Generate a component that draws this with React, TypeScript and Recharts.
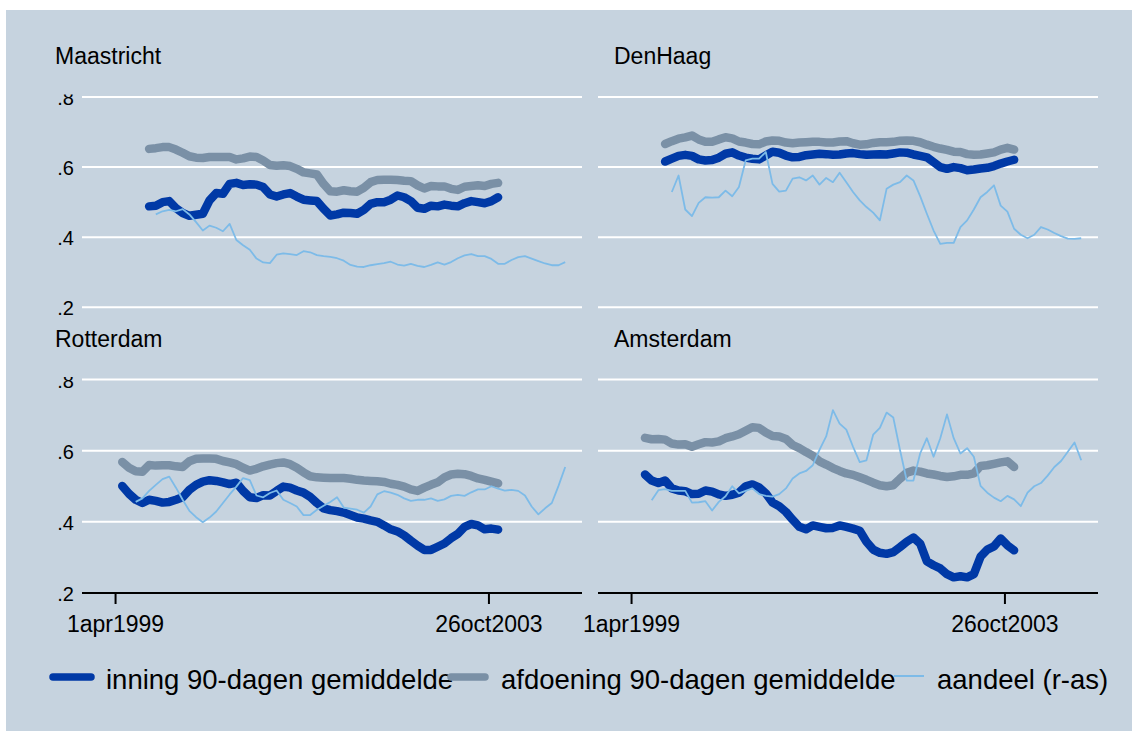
import { LineChart, Line, XAxis, YAxis, CartesianGrid } from 'recharts'

const BG = '#c6d3df'
const C_INNING = '#0039a6'
const C_AFDOENING = '#7a90a6'
const C_AANDEEL = '#7dbbe8'
const FONT = '"Liberation Sans", Arial, sans-serif'

// x grid: one sample every 30 days, day 0 = 1apr1999
const STEP_DAYS = 30
const N_STEPS = 68
const X_DOMAIN: [number, number] = [-150, 2085]
const X_TICKS = [0, 1669]
const X_LABELS = ['1apr1999', '26oct2003']
const Y_TICKS = [0.2, 0.4, 0.6, 0.8]
const Y_LABELS = ['.2', '.4', '.6', '.8']

const SERIES_NAMES = ['inning 90-dagen gemiddelde', 'afdoening 90-dagen gemiddelde', 'aandeel (r-as)']
const CITIES = ['Maastricht', 'DenHaag', 'Rotterdam', 'Amsterdam']

// Maastricht (inning/afdoening from step 5, aandeel from step 6)
const MAA_INNING = [0.488, 0.490, 0.500, 0.503, 0.483, 0.469, 0.461, 0.464, 0.467, 0.505, 0.526, 0.524, 0.552, 0.555, 0.549, 0.551, 0.550, 0.543, 0.522, 0.516, 0.522, 0.526, 0.516, 0.507, 0.505, 0.503, 0.481, 0.462, 0.465, 0.470, 0.469, 0.467, 0.478, 0.495, 0.500, 0.500, 0.507, 0.519, 0.514, 0.503, 0.484, 0.481, 0.490, 0.488, 0.493, 0.490, 0.488, 0.497, 0.503, 0.500, 0.497, 0.503, 0.514]
const MAA_AFDOENING = [0.652, 0.654, 0.657, 0.657, 0.650, 0.641, 0.631, 0.627, 0.626, 0.629, 0.629, 0.629, 0.629, 0.622, 0.625, 0.630, 0.629, 0.619, 0.606, 0.604, 0.605, 0.603, 0.595, 0.585, 0.582, 0.579, 0.552, 0.531, 0.530, 0.534, 0.531, 0.530, 0.541, 0.557, 0.563, 0.564, 0.564, 0.563, 0.561, 0.560, 0.548, 0.539, 0.546, 0.545, 0.545, 0.538, 0.535, 0.544, 0.546, 0.548, 0.546, 0.552, 0.555]
const MAA_AANDEEL = [0.465, 0.474, 0.478, 0.474, 0.480, 0.465, 0.443, 0.419, 0.433, 0.427, 0.417, 0.438, 0.392, 0.377, 0.364, 0.339, 0.328, 0.326, 0.350, 0.354, 0.352, 0.349, 0.360, 0.357, 0.349, 0.346, 0.344, 0.340, 0.333, 0.321, 0.316, 0.315, 0.320, 0.323, 0.326, 0.330, 0.322, 0.319, 0.324, 0.318, 0.315, 0.321, 0.328, 0.322, 0.329, 0.340, 0.348, 0.352, 0.346, 0.346, 0.338, 0.324, 0.324, 0.335, 0.343, 0.346, 0.339, 0.332, 0.325, 0.320, 0.320, 0.329]

// Den Haag (from step 5 / 6)
const DH_INNING = [0.616, 0.624, 0.632, 0.635, 0.632, 0.622, 0.619, 0.620, 0.627, 0.638, 0.642, 0.633, 0.627, 0.624, 0.622, 0.633, 0.644, 0.641, 0.633, 0.628, 0.629, 0.634, 0.636, 0.638, 0.637, 0.635, 0.636, 0.639, 0.640, 0.637, 0.635, 0.636, 0.637, 0.636, 0.639, 0.642, 0.641, 0.636, 0.632, 0.628, 0.614, 0.600, 0.595, 0.600, 0.597, 0.591, 0.593, 0.596, 0.598, 0.603, 0.610, 0.616, 0.621]
const DH_AFDOENING = [0.666, 0.674, 0.681, 0.685, 0.690, 0.679, 0.672, 0.672, 0.679, 0.685, 0.682, 0.673, 0.670, 0.666, 0.665, 0.673, 0.676, 0.675, 0.670, 0.668, 0.670, 0.671, 0.672, 0.672, 0.670, 0.670, 0.673, 0.674, 0.668, 0.664, 0.665, 0.669, 0.671, 0.671, 0.672, 0.675, 0.676, 0.675, 0.671, 0.664, 0.658, 0.653, 0.649, 0.644, 0.643, 0.637, 0.635, 0.636, 0.639, 0.642, 0.650, 0.655, 0.650]
const DH_AANDEEL = [0.529, 0.576, 0.479, 0.460, 0.498, 0.514, 0.513, 0.514, 0.533, 0.517, 0.543, 0.619, 0.624, 0.624, 0.643, 0.552, 0.530, 0.533, 0.567, 0.571, 0.562, 0.576, 0.550, 0.569, 0.557, 0.584, 0.557, 0.529, 0.505, 0.486, 0.470, 0.448, 0.538, 0.550, 0.557, 0.576, 0.562, 0.517, 0.467, 0.419, 0.381, 0.384, 0.384, 0.429, 0.448, 0.479, 0.514, 0.529, 0.548, 0.490, 0.473, 0.424, 0.407, 0.397, 0.407, 0.429, 0.422, 0.412, 0.403, 0.396, 0.395, 0.397]

// Rotterdam (from step 1 / 3)
const RO_INNING = [0.501, 0.479, 0.462, 0.453, 0.462, 0.459, 0.454, 0.456, 0.462, 0.469, 0.490, 0.504, 0.513, 0.517, 0.515, 0.511, 0.506, 0.510, 0.487, 0.469, 0.467, 0.475, 0.474, 0.487, 0.499, 0.496, 0.488, 0.482, 0.470, 0.453, 0.438, 0.433, 0.430, 0.426, 0.419, 0.412, 0.409, 0.404, 0.400, 0.390, 0.379, 0.373, 0.362, 0.347, 0.333, 0.321, 0.321, 0.330, 0.339, 0.354, 0.366, 0.386, 0.394, 0.390, 0.379, 0.381, 0.378]
const RO_AFDOENING = [0.568, 0.552, 0.542, 0.541, 0.560, 0.558, 0.559, 0.559, 0.556, 0.554, 0.570, 0.577, 0.578, 0.578, 0.577, 0.571, 0.567, 0.562, 0.552, 0.544, 0.549, 0.556, 0.561, 0.565, 0.567, 0.562, 0.552, 0.539, 0.528, 0.525, 0.524, 0.523, 0.523, 0.523, 0.521, 0.518, 0.516, 0.515, 0.514, 0.512, 0.507, 0.504, 0.499, 0.491, 0.487, 0.496, 0.504, 0.511, 0.525, 0.533, 0.535, 0.534, 0.529, 0.522, 0.518, 0.513, 0.508]
const RO_AANDEEL = [0.456, 0.466, 0.487, 0.504, 0.520, 0.527, 0.496, 0.462, 0.431, 0.413, 0.399, 0.412, 0.429, 0.453, 0.477, 0.499, 0.523, 0.517, 0.474, 0.469, 0.481, 0.488, 0.462, 0.453, 0.443, 0.419, 0.419, 0.434, 0.445, 0.456, 0.469, 0.440, 0.437, 0.434, 0.426, 0.443, 0.477, 0.486, 0.482, 0.476, 0.466, 0.459, 0.462, 0.462, 0.466, 0.459, 0.463, 0.473, 0.476, 0.473, 0.483, 0.491, 0.491, 0.500, 0.493, 0.488, 0.490, 0.487, 0.474, 0.443, 0.421, 0.438, 0.453, 0.501, 0.554]

// Amsterdam (from step 2 / 3)
const AM_INNING = [0.533, 0.516, 0.509, 0.516, 0.494, 0.488, 0.486, 0.478, 0.479, 0.488, 0.485, 0.477, 0.473, 0.476, 0.482, 0.500, 0.505, 0.497, 0.480, 0.454, 0.444, 0.428, 0.406, 0.386, 0.379, 0.390, 0.386, 0.382, 0.383, 0.390, 0.386, 0.381, 0.375, 0.344, 0.322, 0.313, 0.310, 0.315, 0.329, 0.344, 0.356, 0.339, 0.289, 0.278, 0.269, 0.253, 0.244, 0.247, 0.244, 0.253, 0.302, 0.322, 0.331, 0.353, 0.334, 0.320]
const AM_AFDOENING = [0.636, 0.632, 0.633, 0.631, 0.620, 0.617, 0.618, 0.611, 0.618, 0.624, 0.623, 0.626, 0.635, 0.640, 0.646, 0.656, 0.666, 0.664, 0.651, 0.641, 0.640, 0.633, 0.616, 0.607, 0.596, 0.586, 0.570, 0.561, 0.551, 0.543, 0.536, 0.532, 0.525, 0.518, 0.510, 0.503, 0.500, 0.503, 0.521, 0.538, 0.544, 0.541, 0.536, 0.533, 0.529, 0.526, 0.528, 0.532, 0.532, 0.536, 0.557, 0.559, 0.563, 0.567, 0.570, 0.554]
const AM_AANDEEL = [0.461, 0.489, 0.492, 0.487, 0.487, 0.487, 0.454, 0.455, 0.458, 0.432, 0.456, 0.472, 0.500, 0.480, 0.487, 0.494, 0.478, 0.473, 0.471, 0.478, 0.494, 0.522, 0.536, 0.543, 0.559, 0.602, 0.640, 0.714, 0.676, 0.659, 0.611, 0.568, 0.573, 0.645, 0.664, 0.707, 0.693, 0.602, 0.516, 0.516, 0.592, 0.635, 0.583, 0.635, 0.702, 0.635, 0.592, 0.607, 0.583, 0.501, 0.482, 0.468, 0.458, 0.473, 0.463, 0.444, 0.482, 0.500, 0.509, 0.530, 0.554, 0.571, 0.597, 0.623, 0.573]

// first step index of each series: [inning, afdoening, aandeel]
const MAA_START = [5, 5, 6]
const DH_START = [5, 5, 6]
const RO_START = [1, 1, 3]
const AM_START = [2, 2, 3]

function buildRows(start: number[], inning: number[], afdoening: number[], aandeel: number[]) {
  return Array.from({ length: N_STEPS }, (_, i) => ({
    t: i * STEP_DAYS,
    inning: inning[i - start[0]],
    afdoening: afdoening[i - start[1]],
    aandeel: aandeel[i - start[2]],
  }))
}

const PANELS = [
  { rows: buildRows(MAA_START, MAA_INNING, MAA_AFDOENING, MAA_AANDEEL), left: 0, top: 0, bottomRow: false, leftCol: true },
  { rows: buildRows(DH_START, DH_INNING, DH_AFDOENING, DH_AANDEEL), left: 530, top: 0, bottomRow: false, leftCol: false },
  { rows: buildRows(RO_START, RO_INNING, RO_AFDOENING, RO_AANDEEL), left: 0, top: 320, bottomRow: true, leftCol: true },
  { rows: buildRows(AM_START, AM_INNING, AM_AFDOENING, AM_AANDEEL), left: 530, top: 320, bottomRow: true, leftCol: false },
]

function YTick(props: any) {
  const { x, y, payload } = props
  const label = Y_LABELS[Y_TICKS.indexOf(payload.value)]
  return (
    <g>
      <text x={x} y={y + 8} textAnchor="end" fontSize={20} fill="#000" fontFamily={FONT}>{label}</text>
      {/* top label is partly hidden behind the panel title band */}
      {payload.value === 0.8 && <rect x={x - 26} y={y - 22} width={28} height={19.5} fill={BG} />}
    </g>
  )
}

function Panel({ rows, left, top, bottomRow, leftCol }: any) {
  const width = leftCol ? 600 : 590
  const height = bottomRow ? 330 : 320
  const margin = {
    top: bottomRow ? 59.5 : 97,
    bottom: bottomRow ? 0 : 12.7,
    left: leftCol ? 0 : 68,
    right: leftCol ? 18 : 22,
  }
  return (
    <div style={{ position: 'absolute', left, top }}>
      <LineChart width={width} height={height} data={rows} margin={margin}>
        <CartesianGrid vertical={false} horizontalValues={Y_TICKS} stroke="#fff" strokeWidth={2} />
        <XAxis
          type="number"
          dataKey="t"
          domain={X_DOMAIN}
          ticks={X_TICKS}
          interval={0}
          hide={!bottomRow}
          height={57}
          tickFormatter={(v: number) => X_LABELS[X_TICKS.indexOf(v)]}
          axisLine={{ stroke: '#000', strokeWidth: 2 }}
          tickLine={{ stroke: '#000', strokeWidth: 2 }}
          tickSize={11}
          tickMargin={12}
          tick={{ fill: '#000', fontSize: 23, fontFamily: FONT }}
        />
        <YAxis
          domain={[0.2, 0.8]}
          ticks={Y_TICKS}
          interval={0}
          hide={!leftCol}
          width={82}
          axisLine={false}
          tickLine={false}
          tickSize={0}
          tickMargin={8}
          tick={<YTick />}
        />
        <Line dataKey="inning" name={SERIES_NAMES[0]} stroke={C_INNING} strokeWidth={8.5} strokeLinecap="round" strokeLinejoin="round" dot={false} isAnimationActive={false} />
        <Line dataKey="afdoening" name={SERIES_NAMES[1]} stroke={C_AFDOENING} strokeWidth={8.5} strokeLinecap="round" strokeLinejoin="round" dot={false} isAnimationActive={false} />
        <Line dataKey="aandeel" name={SERIES_NAMES[2]} stroke={C_AANDEEL} strokeWidth={1.8} strokeLinejoin="round" dot={false} isAnimationActive={false} />
      </LineChart>
    </div>
  )
}

export default function App() {
  return (
    <div style={{ position: 'absolute', left: 0, top: 0, width: 1132, height: 731, background: '#fff', fontFamily: FONT }}>
      <div style={{ position: 'absolute', left: 6, top: 10, width: 1126, height: 721, background: BG }} />
      {PANELS.map((p, i) => <Panel key={CITIES[i]} {...p} />)}
      <svg width={1132} height={731} style={{ position: 'absolute', left: 0, top: 0, pointerEvents: 'none' }} fontFamily={FONT}>
        <text x={55} y={64} fontSize={23} fill="#000">{CITIES[0]}</text>
        <text x={614} y={64} fontSize={23} fill="#000">{CITIES[1]}</text>
        <text x={55} y={347} fontSize={23} fill="#000">{CITIES[2]}</text>
        <text x={614} y={347} fontSize={23} fill="#000">{CITIES[3]}</text>

        <line x1={53} x2={91} y1={677} y2={677} stroke={C_INNING} strokeWidth={7.5} strokeLinecap="round" />
        <text x={106} y={689} fontSize={27.5} fill="#000">{SERIES_NAMES[0]}</text>
        <line x1={451} x2={485} y1={677} y2={677} stroke={C_AFDOENING} strokeWidth={7.5} strokeLinecap="round" />
        <text x={501} y={689} fontSize={27.5} fill="#000">{SERIES_NAMES[1]}</text>
        <line x1={894} x2={924} y1={676} y2={676} stroke={C_AANDEEL} strokeWidth={2} />
        <text x={937} y={689} fontSize={27.5} fill="#000">{SERIES_NAMES[2]}</text>
      </svg>
    </div>
  )
}
